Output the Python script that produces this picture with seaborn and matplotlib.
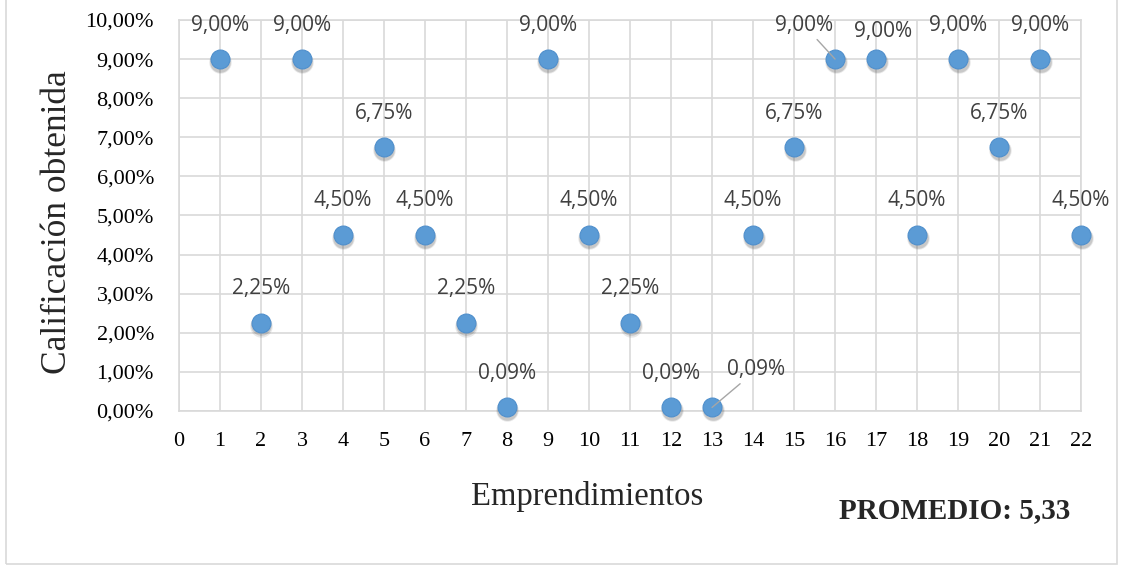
import matplotlib
matplotlib.use("Agg")
import matplotlib.pyplot as plt
import matplotlib.transforms as mtransforms
from matplotlib.patches import Rectangle
import seaborn as sns
import pandas as pd

# Data
emprendimientos = list(range(1, 23))
calificacion = [9.00, 2.25, 9.00, 4.50, 6.75, 4.50, 2.25, 0.09, 9.00, 4.50, 2.25,
                0.09, 0.09, 4.50, 6.75, 9.00, 9.00, 4.50, 9.00, 6.75, 9.00, 4.50]
y_ticks = [0, 1, 2, 3, 4, 5, 6, 7, 8, 9, 10]
x_ticks = list(range(0, 23))
promedio_text = "PROMEDIO: 5,33"

df = pd.DataFrame({"Emprendimientos": emprendimientos, "Calificacion": calificacion})

sns.set_style("whitegrid")
plt.rcParams["font.family"] = ["Liberation Serif", "DejaVu Serif"]

grid_color = "#d9d9d9"
blue = "#5b9bd5"

fig = plt.figure(figsize=(11.22, 5.66), dpi=100)
ax = fig.add_axes([0.1595, 0.2739, 0.8040, 0.6908])

# soft shadow under markers
for dx, dy, s, a in [(0.5, -3, 260, 0.12), (0.5, -2.5, 220, 0.18)]:
    shadow = mtransforms.offset_copy(ax.transData, fig=fig, x=dx, y=dy, units="dots")
    ax.scatter(df["Emprendimientos"], df["Calificacion"], s=s, color="#404040",
               alpha=a, linewidths=0, transform=shadow, zorder=3, clip_on=False)

sns.scatterplot(data=df, x="Emprendimientos", y="Calificacion", ax=ax, s=185,
                color=blue, edgecolor="#4f8fcc", linewidth=0.8, zorder=4, clip_on=False)

# data labels
label_kw = dict(fontsize=15, color="#404040", family=["Open Sans", "DejaVu Sans"],
                ha="center", va="center", zorder=5)
for x, y in zip(emprendimientos, calificacion):
    txt = f"{y:.2f}%".replace(".", ",")
    if x == 16:
        ax.annotate(txt, xy=(x, y), xytext=(-22, 24), textcoords="offset points",
                    arrowprops=dict(arrowstyle="-", color="#a6a6a6", lw=1,
                                    shrinkA=0, shrinkB=0),
                    **label_kw)
    elif x == 13:
        ax.annotate(txt, xy=(x, y), xytext=(32, 27), textcoords="offset points",
                    arrowprops=dict(arrowstyle="-", color="#a6a6a6", lw=1,
                                    shrinkA=0, shrinkB=0),
                    **label_kw)
    elif x == 17:
        ax.annotate(txt, xy=(x, y), xytext=(5, 20), textcoords="offset points", **label_kw)
    else:
        ax.annotate(txt, xy=(x, y), xytext=(0, 24.5), textcoords="offset points", **label_kw)

ax.set_xlim(0, 22)
ax.set_ylim(0, 10)
ax.set_xticks(x_ticks)
ax.set_yticks(y_ticks)
ax.set_xticklabels([str(t) for t in x_ticks])
ax.set_yticklabels([f"{t:.2f}%".replace(".", ",") for t in y_ticks])
ax.tick_params(axis="both", length=0, labelsize=16, colors="black")
ax.tick_params(axis="y", pad=18)
ax.tick_params(axis="x", pad=15)
ax.grid(True, color=grid_color, linewidth=1.2)
for sp in ax.spines.values():
    sp.set_color(grid_color)
    sp.set_linewidth(1.2)

ax.set_xlabel("Emprendimientos", fontsize=23.5, va="center")
ax.xaxis.set_label_coords(0.452, -0.22)
ax.set_ylabel("Calificación obtenida", fontsize=25.5, va="center")
ax.yaxis.set_label_coords(-0.135, 0.483)

fig.text(955 / 1122, 1 - 511 / 566, promedio_text, fontsize=21, fontweight="bold",
         ha="center", va="center")

# outer chart border
fig.patches.append(Rectangle((5.5 / 1122, 2 / 566), 1111 / 1122, 1.0, transform=fig.transFigure,
                             fill=False, edgecolor=grid_color, linewidth=1.2))

fig.savefig("out.png", dpi=100)
plt.close(fig)
